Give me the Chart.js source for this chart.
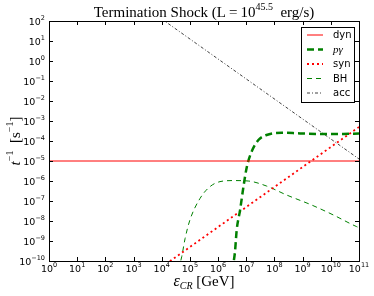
<!DOCTYPE html>
<html>
<head>
<meta charset="utf-8">
<script src="https://cdn.jsdelivr.net/npm/chart.js@4.4.1/dist/chart.umd.min.js"></script>
<style>
    html, body { margin: 0; padding: 0; background: #fff; }
</style>
</head>
<body>
<canvas id="shockChart" width="374" height="296"></canvas>
<script>
// tick exponents (labels are 10^n)
const xTickExps = [0, 1, 2, 3, 4, 5, 6, 7, 8, 9, 10, 11];
const yTickExps = [-10, -9, -8, -7, -6, -5, -4, -3, -2, -1, 0, 1, 2];

// dyn - flat
const dynEnergy = [1, 1e11];
const dynRate = [1e-5, 1e-5];

// p gamma - thick dashed
const pgEnergy = [3.16e6, 3.98e6, 4.57e6, 6.03e6, 7.94e6, 1.05e7, 1.55e7, 2.69e7, 5.25e7, 1.82e8, 8.1e8, 5.4e9, 2.75e10, 1e11];
const pgRate = [3.2e-11, 2.95e-10, 3.5e-9, 3.5e-8, 5.2e-7, 5.2e-6, 2.95e-5, 1.12e-4, 2.0e-4, 2.6e-4, 2.4e-4, 2.24e-4, 2.24e-4, 2.4e-4];

// synchrotron
const synEnergy = [1e4, 1e11];
const synRate = [5e-11, 5e-4];

// Bethe-Heitler
const bhEnergy = [3.98e4, 5.13e4, 6.76e4, 1e5, 2.29e5, 5.13e5, 1.17e6, 3.47e6, 1.17e7, 5.25e7, 2.69e8, 2.09e9, 1.23e10, 8.3e10, 1e11];
const bhRate = [4.0e-11, 1.66e-10, 1.35e-9, 1.12e-8, 1.35e-7, 5.2e-7, 9.3e-7, 1.05e-6, 1.0e-6, 5.6e-7, 2.0e-7, 6.3e-8, 2.0e-8, 5.2e-9, 4.7e-9];

// acceleration
const accEnergy = [1e4, 1e11];
const accRate = [1.26e2, 1.26e-5];

const SANS = "'DejaVu Sans', sans-serif";
const SERIF = "'Liberation Serif', 'DejaVu Serif', serif";

function toPoints(xs, ys) {
    return xs.map((x, i) => ({ x: x, y: ys[i] }));
}

const seriesStyles = [
    { label: 'dyn', color: '#ff0000', width: 1, dash: [] },
    { label: 'pγ', color: '#008000', width: 2.5, dash: [7, 4], italic: true },
    { label: 'syn', color: '#ff0000', width: 1.8, dash: [2, 3] },
    { label: 'BH', color: '#008000', width: 1, dash: [5, 4] },
    { label: 'acc', color: 'rgba(0,0,0,0.75)', width: 1, dash: [3, 2, 1, 2] }
];

// draw a row of text pieces (for superscripts / subscripts)
function drawRuns(ctx, runs, x, y, align) {
    let total = 0;
    runs.forEach(r => {
        ctx.font = r.font;
        r.w = ctx.measureText(r.t).width;
        total += r.w;
    });
    let cx = x;
    if (align === 'center') cx = x - total / 2;
    if (align === 'right') cx = x - total;
    ctx.textAlign = 'left';
    ctx.textBaseline = 'alphabetic';
    runs.forEach(r => {
        ctx.font = r.font;
        ctx.fillText(r.t, cx, y + (r.dy || 0));
        cx += r.w;
    });
}

function expText(n) {
    return n < 0 ? '\u2212' + Math.abs(n) : String(n);
}

const decorPlugin = {
    id: 'decor',
    afterDraw(chart) {
        const ctx = chart.ctx;
        const ca = chart.chartArea;
        const xs = chart.scales.x;
        const ys = chart.scales.y;
        ctx.save();

        // frame
        ctx.strokeStyle = '#000';
        ctx.lineWidth = 1;
        ctx.setLineDash([]);
        ctx.strokeRect(ca.left + 0.5, ca.top + 0.5, ca.width, ca.height);

        // ticks, inward on all sides
        ctx.beginPath();
        xTickExps.forEach(n => {
            const px = Math.round(xs.getPixelForValue(Math.pow(10, n))) + 0.5;
            ctx.moveTo(px, ca.bottom); ctx.lineTo(px, ca.bottom - 4);
            ctx.moveTo(px, ca.top); ctx.lineTo(px, ca.top + 4);
        });
        yTickExps.forEach(n => {
            const py = Math.round(ys.getPixelForValue(Math.pow(10, n))) + 0.5;
            ctx.moveTo(ca.left, py); ctx.lineTo(ca.left + 4, py);
            ctx.moveTo(ca.right, py); ctx.lineTo(ca.right - 4, py);
        });
        ctx.stroke();

        // tick labels
        ctx.fillStyle = '#000';
        xTickExps.forEach(n => {
            const px = xs.getPixelForValue(Math.pow(10, n));
            drawRuns(ctx, [
                { t: '10', font: '9.5px ' + SANS },
                { t: expText(n), font: '6.5px ' + SANS, dy: -5.5 }
            ], px, ca.bottom + 11, 'center');
        });
        yTickExps.forEach(n => {
            const py = ys.getPixelForValue(Math.pow(10, n));
            drawRuns(ctx, [
                { t: '10', font: '9.5px ' + SANS },
                { t: expText(n), font: '6.5px ' + SANS, dy: -5.5 }
            ], ca.left - 4, py + 4, 'right');
        });

        // title
        const midX = (ca.left + ca.right) / 2;
        drawRuns(ctx, [
            { t: 'Termination Shock (L\u2009=\u200910', font: '15px ' + SERIF },
            { t: '45.5', font: '10px ' + SERIF, dy: -7 },
            { t: '  erg/s)', font: '15px ' + SERIF }
        ], midX, 17, 'center');

        // x axis label
        drawRuns(ctx, [
            { t: 'ε', font: 'italic 16px ' + SERIF },
            { t: 'CR', font: 'italic 10px ' + SERIF, dy: 3 },
            { t: ' [GeV]', font: '15px ' + SERIF }
        ], midX, 286, 'center');

        // y axis label, rotated
        ctx.save();
        ctx.translate(20, (ca.top + ca.bottom) / 2);
        ctx.rotate(-Math.PI / 2);
        drawRuns(ctx, [
            { t: 't', font: 'italic 15px ' + SERIF },
            { t: '\u22121', font: '10px ' + SERIF, dy: -7 },
            { t: '  [s', font: '15px ' + SERIF },
            { t: '\u22121', font: '10px ' + SERIF, dy: -7 },
            { t: ']', font: '15px ' + SERIF }
        ], 0, 0, 'center');
        ctx.restore();

        // legend box
        const lx = 301.5, ly = 27.5, lw = 53, lh = 75;
        ctx.fillStyle = '#fff';
        ctx.fillRect(lx, ly, lw, lh);
        ctx.strokeStyle = '#000';
        ctx.lineWidth = 1;
        ctx.strokeRect(lx, ly, lw, lh);
        seriesStyles.forEach((s, i) => {
            const rowY = 35 + i * 14.5;
            ctx.beginPath();
            ctx.strokeStyle = s.color;
            ctx.lineWidth = s.width;
            ctx.setLineDash(s.dash);
            ctx.moveTo(307, rowY);
            ctx.lineTo(323, rowY);
            ctx.stroke();
            ctx.setLineDash([]);
            ctx.fillStyle = '#000';
            ctx.textAlign = 'left';
            ctx.textBaseline = 'middle';
            ctx.font = s.italic ? 'italic 11px ' + SERIF : '10px ' + SANS;
            ctx.fillText(s.label, 333, rowY + 0.5);
        });

        ctx.restore();
    }
};

const seriesData = [
    toPoints(dynEnergy, dynRate),
    toPoints(pgEnergy, pgRate),
    toPoints(synEnergy, synRate),
    toPoints(bhEnergy, bhRate),
    toPoints(accEnergy, accRate)
];

const datasets = seriesStyles.map((s, i) => ({
    label: s.label,
    data: seriesData[i],
    borderColor: s.color,
    borderWidth: s.width,
    borderDash: s.dash,
    pointRadius: 0,
    fill: false,
    cubicInterpolationMode: (i === 1 || i === 3) ? 'monotone' : 'default'
}));

new Chart(document.getElementById('shockChart').getContext('2d'), {
    type: 'line',
    data: { datasets: datasets },
    options: {
        responsive: false,
        animation: false,
        layout: { padding: { left: 49, right: 15, top: 21, bottom: 35 } },
        plugins: {
            legend: { display: false },
            tooltip: { enabled: false },
            title: { display: false }
        },
        scales: {
            x: {
                type: 'logarithmic',
                min: 1,
                max: 1e11,
                display: false
            },
            y: {
                type: 'logarithmic',
                min: 1e-10,
                max: 1e2,
                display: false
            }
        }
    },
    plugins: [decorPlugin]
});
</script>
</body>
</html>
